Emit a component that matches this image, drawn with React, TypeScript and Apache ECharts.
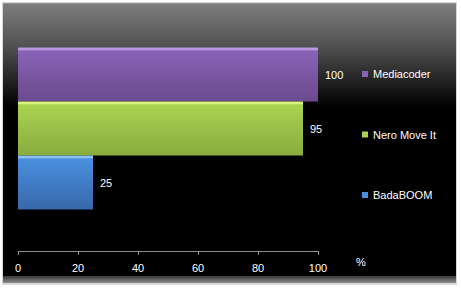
import React, { useEffect, useRef } from "react";
import * as echarts from "echarts";

const seriesNames = ["Mediacoder", "Nero Move It", "BadaBOOM"];
const seriesValues = [100, 95, 25];
const xTicks = { min: 0, max: 100, interval: 20 };
const unitLabel = "%";

const palette = [
  { hi: "#b896e2", top: "#8a62b8", bottom: "#6a4a8c" },
  { hi: "#d8f47c", top: "#aad352", bottom: "#8aab3e" },
  { hi: "#8cc2f2", top: "#4b8fe0", bottom: "#3768a8" },
];

export default function App() {
  const ref = useRef<HTMLDivElement>(null);
  useEffect(() => {
    document.body.style.margin = "0";
    const chart = echarts.init(ref.current!, null, { renderer: "svg" });
    const font = "'Liberation Sans', Arial, sans-serif";
    const grad = (p: { hi: string; top: string; bottom: string }) =>
      new echarts.graphic.LinearGradient(0, 0, 0, 1, [
        { offset: 0, color: p.hi },
        { offset: 0.045, color: p.hi },
        { offset: 0.06, color: p.top },
        { offset: 1, color: p.bottom },
      ]);
    chart.setOption({
      animation: false,
      backgroundColor: "#ffffff",
      graphic: [
        {
          type: "rect",
          z: -10,
          shape: { x: 2, y: 2, width: 455, height: 283 },
          style: { fill: "#d8d8d8" },
          silent: true,
        },
        {
          type: "rect",
          z: -9,
          shape: { x: 3, y: 3, width: 453, height: 280 },
          style: {
            fill: new echarts.graphic.LinearGradient(0, 0, 0, 1, [
              { offset: 0, color: "#9a9a9a" },
              { offset: 0.006, color: "#7c7c7c" },
              { offset: 0.14, color: "#555555" },
              { offset: 0.37, color: "#000000" },
              { offset: 0.975, color: "#000000" },
              { offset: 0.976, color: "#3a3a3a" },
              { offset: 1, color: "#8c8c8c" },
            ]),
          },
          silent: true,
        },
        {
          type: "text",
          left: 356,
          top: 256,
          style: { text: unitLabel, fill: "#ffffff", font: `11px ${font}` },
        },
      ],
      grid: { left: 18, right: 143, top: 6, bottom: 39, containLabel: false },
      legend: {
        orient: "vertical",
        left: 357,
        top: 62,
        itemWidth: 6,
        itemHeight: 6,
        itemGap: 46.5,
        icon: "rect",
        textStyle: { color: "#ffffff", fontSize: 11, fontFamily: font, lineHeight: 14 },
        data: seriesNames.map((n, i) => ({ name: n, itemStyle: { color: palette[i].top } })),
      },
      xAxis: {
        type: "value",
        min: xTicks.min,
        max: xTicks.max,
        interval: xTicks.interval,
        axisLine: { show: true, lineStyle: { color: "#8c8c8c", width: 1 } },
        axisTick: { show: true, length: 4, lineStyle: { color: "#8c8c8c" } },
        axisLabel: { color: "#ffffff", fontSize: 11, fontFamily: font, margin: 11 },
        splitLine: { show: false },
      },
      yAxis: { type: "category", data: [""], show: false },
      series: seriesNames.map((n, i) => ({
        type: "bar",
        name: n,
        data: [seriesValues[i]],
        barWidth: 54,
        barGap: "0%",
        itemStyle: { color: grad(palette[i]) },
        label: {
          show: true,
          position: "right",
          distance: 7,
          color: "#ffffff",
          fontSize: 11,
          fontFamily: font,
        },
      })),
    });
    return () => chart.dispose();
  }, []);
  return <div ref={ref} style={{ width: 461, height: 290 }} />;
}
